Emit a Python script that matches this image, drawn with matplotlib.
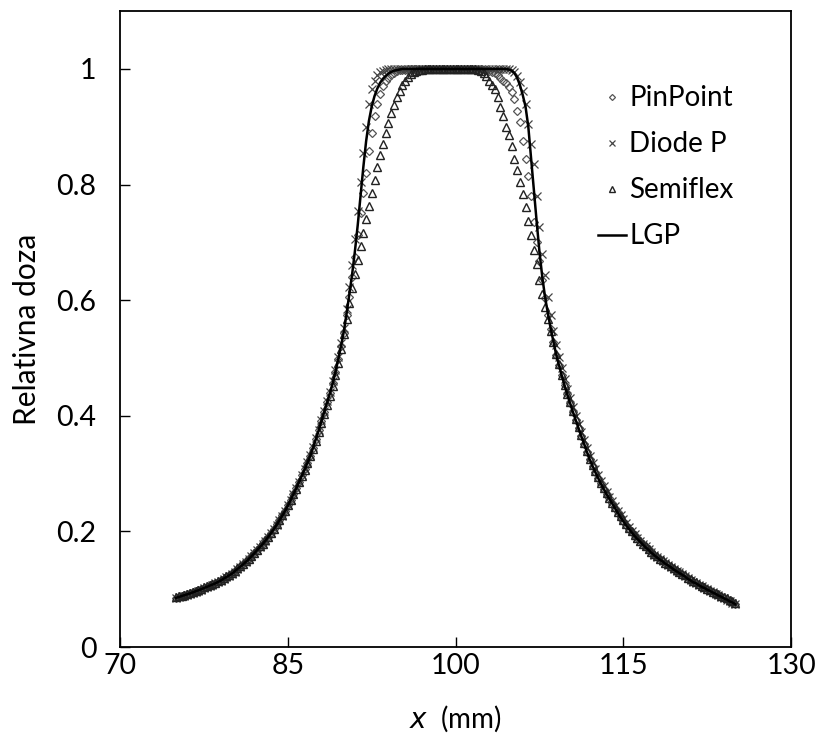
import numpy as np
import matplotlib
matplotlib.use("Agg")
import matplotlib.pyplot as plt

plt.rcParams['font.family'] = ['Lato', 'DejaVu Sans']

# positions along x (mm), one reading every 0.25 mm from 75 to 125
x = np.arange(75, 125.001, 0.25)

lgp = [
    0.085, 0.0865, 0.088, 0.0895, 0.091, 0.0927, 0.0945, 0.0962, 0.098, 0.100,
    0.102, 0.104, 0.106, 0.108, 0.110, 0.1125, 0.115, 0.118, 0.121, 0.124,
    0.127, 0.131, 0.135, 0.139, 0.143, 0.1475, 0.152, 0.157, 0.162, 0.1675,
    0.173, 0.178, 0.184, 0.1905, 0.197, 0.204, 0.211, 0.219, 0.227, 0.235,
    0.244, 0.254, 0.264, 0.274, 0.285, 0.296, 0.307, 0.318, 0.330, 0.344,
    0.359, 0.374, 0.390, 0.406, 0.422, 0.438, 0.455, 0.475, 0.497, 0.520,
    0.545, 0.576, 0.610, 0.645, 0.685, 0.730, 0.780, 0.830, 0.875, 0.910,
    0.935, 0.953, 0.966, 0.976, 0.983, 0.988, 0.992, 0.995, 0.997, 0.998, 0.999,
    1.000, 1.000, 1.000, 1.000, 1.000, 1.000, 1.000, 1.000, 1.000, 1.000,
    1.000, 1.000, 1.000, 1.000, 1.000, 1.000, 1.000, 1.000, 1.000, 1.000,
    1.000, 1.000, 1.000, 1.000, 1.000, 1.000, 1.000, 1.000, 1.000, 1.000,
    1.000, 1.000, 1.000, 1.000, 1.000, 1.000, 1.000, 1.000,
    0.999, 0.997, 0.993, 0.985, 0.972, 0.955, 0.935, 0.900, 0.845, 0.790,
    0.735, 0.683, 0.640, 0.605, 0.577, 0.551, 0.528,
    0.505, 0.487, 0.469, 0.452, 0.436, 0.421, 0.406, 0.392, 0.378, 0.364,
    0.351, 0.337, 0.324, 0.313, 0.302, 0.292, 0.282, 0.273, 0.264, 0.256,
    0.248, 0.240, 0.232, 0.224, 0.217, 0.210, 0.204, 0.198, 0.192, 0.187,
    0.182, 0.177, 0.172, 0.168, 0.163, 0.159, 0.155, 0.151, 0.148, 0.144,
    0.141, 0.138, 0.134, 0.131, 0.128, 0.125, 0.122, 0.118, 0.115, 0.112,
    0.110, 0.107, 0.104, 0.102, 0.099, 0.097, 0.094, 0.092, 0.089, 0.087,
    0.084, 0.082, 0.079, 0.077, 0.074,
]

diode_p = [
    0.084, 0.086, 0.0875, 0.089, 0.0905, 0.092, 0.094, 0.096, 0.0975, 0.0995,
    0.1015, 0.1035, 0.1055, 0.1075, 0.110, 0.112, 0.1145, 0.1175, 0.1205, 0.1235,
    0.127, 0.1305, 0.1345, 0.1385, 0.143, 0.147, 0.152, 0.157, 0.162, 0.167,
    0.173, 0.178, 0.184, 0.190, 0.197, 0.204, 0.211, 0.219, 0.227, 0.236,
    0.245, 0.255, 0.265, 0.275, 0.286, 0.297, 0.308, 0.320, 0.332, 0.346,
    0.361, 0.376, 0.392, 0.408, 0.425, 0.442, 0.460, 0.480, 0.502, 0.526,
    0.552, 0.585, 0.622, 0.660, 0.705, 0.755, 0.805, 0.855, 0.900, 0.940,
    0.965, 0.980, 0.990, 0.995, 0.997, 0.999, 1.000, 1.000, 1.000, 1.000, 1.000,
    1.000, 1.000, 1.000, 1.000, 1.000, 1.000, 1.000, 1.000, 1.000, 1.000,
    1.000, 1.000, 1.000, 1.000, 1.000, 1.000, 1.000, 1.000, 1.000, 1.000,
    1.000, 1.000, 1.000, 1.000, 1.000, 1.000, 1.000, 1.000, 1.000, 1.000,
    1.000, 1.000, 1.000, 1.000, 1.000, 1.000, 1.000, 1.000,
    1.000, 0.998, 0.995, 0.988, 0.978, 0.962, 0.940, 0.905, 0.870, 0.835,
    0.780, 0.727, 0.680, 0.643, 0.606, 0.574, 0.547,
    0.522, 0.501, 0.482, 0.464, 0.447, 0.431, 0.415, 0.400, 0.386, 0.372,
    0.358, 0.344, 0.331, 0.319, 0.308, 0.297, 0.287, 0.278, 0.269, 0.260,
    0.252, 0.244, 0.236, 0.228, 0.221, 0.214, 0.207, 0.201, 0.195, 0.189,
    0.184, 0.179, 0.174, 0.169, 0.165, 0.160, 0.156, 0.152, 0.149, 0.145,
    0.142, 0.138, 0.135, 0.132, 0.129, 0.126, 0.122, 0.119, 0.116, 0.113,
    0.110, 0.108, 0.105, 0.102, 0.100, 0.097, 0.095, 0.092, 0.090, 0.087,
    0.085, 0.082, 0.080, 0.077, 0.075,
]

pinpoint = [
    0.0855, 0.087, 0.0885, 0.090, 0.0915, 0.093, 0.095, 0.0965, 0.0985, 0.1005,
    0.1025, 0.1045, 0.1065, 0.1085, 0.1105, 0.113, 0.1155, 0.1185, 0.1215, 0.1245,
    0.1275, 0.1315, 0.1355, 0.1395, 0.1435, 0.148, 0.1525, 0.1575, 0.1625, 0.168,
    0.1735, 0.179, 0.185, 0.191, 0.198, 0.205, 0.212, 0.220, 0.228, 0.236,
    0.245, 0.255, 0.265, 0.275, 0.286, 0.297, 0.308, 0.319, 0.331, 0.345,
    0.360, 0.375, 0.391, 0.407, 0.423, 0.439, 0.456, 0.476, 0.498, 0.521,
    0.543, 0.574, 0.605, 0.640, 0.675, 0.712, 0.750, 0.785, 0.820, 0.858,
    0.890, 0.918, 0.940, 0.957, 0.970, 0.979, 0.985, 0.990, 0.993, 0.996, 0.998,
    0.999, 0.999, 1.000, 1.000, 1.000, 1.000, 1.000, 1.000, 1.000, 1.000,
    1.000, 1.000, 1.000, 1.000, 1.000, 1.000, 1.000, 1.000, 1.000, 1.000,
    1.000, 1.000, 1.000, 1.000, 1.000, 1.000, 1.000, 1.000, 1.000,
    0.999, 0.998, 0.997, 0.995, 0.993, 0.990, 0.985, 0.980, 0.975,
    0.968, 0.960, 0.948, 0.928, 0.908, 0.875, 0.845, 0.814, 0.780, 0.735,
    0.700, 0.668, 0.635, 0.603, 0.575, 0.550, 0.527,
    0.506, 0.488, 0.470, 0.453, 0.437, 0.422, 0.407, 0.393, 0.379, 0.365,
    0.352, 0.338, 0.325, 0.314, 0.303, 0.293, 0.283, 0.274, 0.265, 0.257,
    0.249, 0.241, 0.233, 0.225, 0.218, 0.211, 0.205, 0.199, 0.193, 0.188,
    0.183, 0.178, 0.173, 0.169, 0.164, 0.160, 0.156, 0.152, 0.149, 0.145,
    0.142, 0.139, 0.135, 0.132, 0.129, 0.126, 0.123, 0.119, 0.116, 0.113,
    0.111, 0.108, 0.105, 0.103, 0.100, 0.098, 0.095, 0.093, 0.090, 0.088,
    0.085, 0.083, 0.080, 0.078, 0.075,
]

semiflex = [
    0.086, 0.0875, 0.089, 0.0905, 0.092, 0.0935, 0.0955, 0.097, 0.099, 0.101,
    0.103, 0.105, 0.107, 0.109, 0.111, 0.1135, 0.116, 0.119, 0.122, 0.125,
    0.128, 0.132, 0.136, 0.140, 0.144, 0.1485, 0.153, 0.158, 0.163, 0.168,
    0.174, 0.179, 0.185, 0.191, 0.198, 0.205, 0.212, 0.220, 0.228, 0.236,
    0.245, 0.254, 0.264, 0.274, 0.285, 0.296, 0.307, 0.318, 0.330, 0.343,
    0.357, 0.372, 0.387, 0.403, 0.419, 0.435, 0.452, 0.471, 0.492, 0.515,
    0.542, 0.568, 0.595, 0.621, 0.646, 0.670, 0.693, 0.716, 0.740, 0.763,
    0.786, 0.808, 0.830, 0.851, 0.871, 0.890, 0.907, 0.923, 0.938, 0.951, 0.962,
    0.972, 0.980, 0.986, 0.991, 0.994, 0.996, 0.998, 0.999,
    1.000, 1.000, 1.000, 1.000, 1.000, 1.000, 1.000, 1.000, 1.000, 1.000,
    1.000, 1.000, 1.000, 1.000, 1.000, 1.000, 1.000, 1.000, 1.000,
    0.999, 0.997, 0.993, 0.987, 0.980, 0.973, 0.965, 0.952, 0.935, 0.918, 0.900,
    0.885, 0.866, 0.845, 0.826, 0.805, 0.783, 0.762, 0.737, 0.712, 0.686,
    0.662, 0.635, 0.610, 0.588, 0.567, 0.547, 0.527,
    0.507, 0.489, 0.471, 0.454, 0.438, 0.423, 0.408, 0.394, 0.380, 0.366,
    0.353, 0.339, 0.326, 0.315, 0.304, 0.294, 0.284, 0.275, 0.266, 0.258,
    0.250, 0.242, 0.234, 0.226, 0.219, 0.212, 0.206, 0.200, 0.194, 0.189,
    0.184, 0.179, 0.174, 0.170, 0.165, 0.161, 0.157, 0.153, 0.150, 0.146,
    0.143, 0.140, 0.136, 0.133, 0.130, 0.127, 0.124, 0.120, 0.117, 0.114,
    0.112, 0.109, 0.106, 0.104, 0.101, 0.099, 0.096, 0.094, 0.091, 0.089,
    0.086, 0.084, 0.081, 0.079, 0.076,
]

for s in (lgp, diode_p, pinpoint, semiflex):
    assert len(s) == len(x), len(s)

x_ticks = [70, 85, 100, 115, 130]
y_ticks = [0, 0.2, 0.4, 0.6, 0.8, 1]
y_tick_labels = ['0', '0.2', '0.4', '0.6', '0.8', '1']

fig = plt.figure(figsize=(8.25, 7.42), dpi=100)
ax = fig.add_axes([0.1455, 0.128, 0.8135, 0.857])

ax.plot(x, pinpoint, linestyle='none', marker='D', markersize=3.8, markerfacecolor='none',
        markeredgecolor='#555555', markeredgewidth=0.9, label='PinPoint')
ax.plot(x, diode_p, linestyle='none', marker='x', markersize=5.2,
        markeredgecolor='#444444', markeredgewidth=0.9, label='Diode P')
ax.plot(x, semiflex, linestyle='none', marker='^', markersize=5.4, markerfacecolor='none',
        markeredgecolor='#222222', markeredgewidth=1.0, label='Semiflex')
ax.plot(x, lgp, color='black', linewidth=1.8, label='LGP')

ax.set_xlim(70, 130)
ax.set_ylim(0, 1.1)
ax.set_xticks(x_ticks)
ax.set_yticks(y_ticks)
ax.set_yticklabels(y_tick_labels)
ax.tick_params(direction='in', length=7, width=1, labelsize=20.5)
ax.tick_params(axis='y', pad=17)
ax.tick_params(axis='x', pad=4)
for sp in ax.spines.values():
    sp.set_linewidth(1.3)

ax.set_xlabel(r'$x$  (mm)', fontsize=20, labelpad=18)
ax.set_ylabel('Relativna doza', fontsize=21.5, labelpad=11)

ax.legend(loc='upper left', bbox_to_anchor=(0.725, 0.885), bbox_transform=fig.transFigure,
          frameon=False, fontsize=20, handlelength=1.0, handletextpad=0.12,
          labelspacing=0.72, borderpad=0, borderaxespad=0, markerscale=0.8)

fig.savefig('out.png', dpi=100)
